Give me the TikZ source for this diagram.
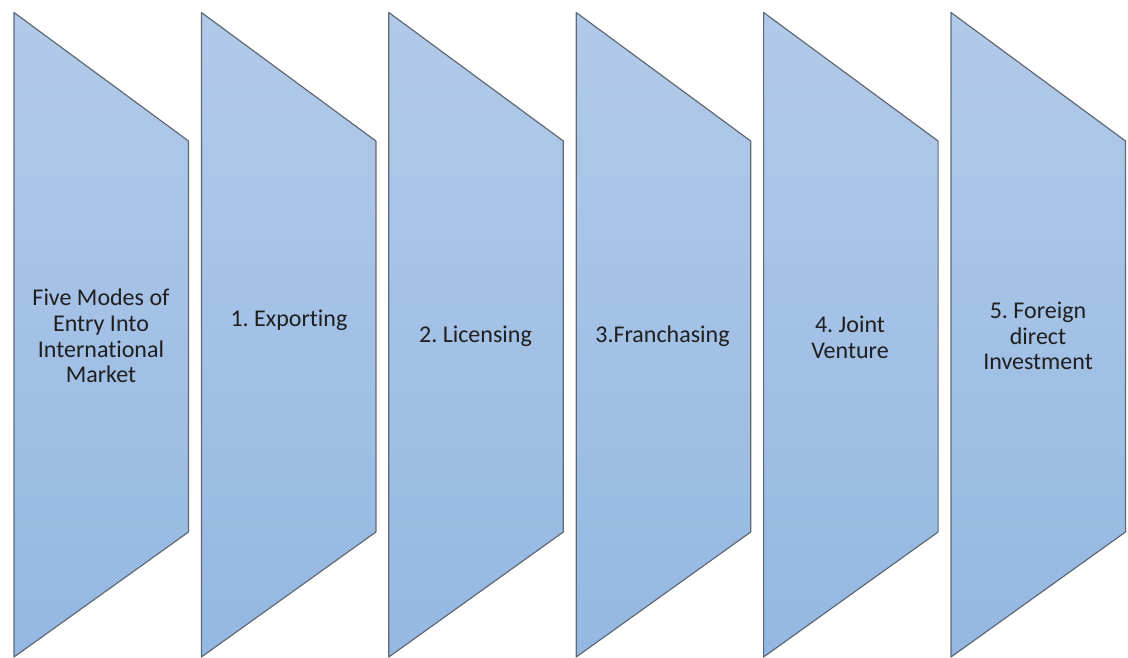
\documentclass[tikz,border=0pt]{standalone}
\usepackage{fontspec}
\setmainfont{Carlito}[Ligatures=NoCommon]
\usepackage{tikz}
\definecolor{panetop}{RGB}{178,202,233}
\definecolor{panebottom}{RGB}{148,184,226}
\definecolor{paneline}{RGB}{95,105,118}
\tikzset{
	entrybox/.style={draw=paneline, line width=1.2pt, line join=round, top color=panetop, bottom color=panebottom},
	entrytext/.style={align=center, text=black!88, font=\fontsize{24}{25.8}\selectfont, inner sep=0pt}
}
\frenchspacing

\begin{document}
\begin{tikzpicture}[x=1pt, y=-1pt]
				\useasboundingbox (0, 0) rectangle (1128, 658);
				
				\draw[entrybox] (14, 12.5) -- (188.5, 141) -- (188.5, 532) -- (14, 657) -- cycle;
				\node[entrytext] (intro) at (101, 336) {Five Modes of\\Entry Into\\International\\Market};
				
				\draw[entrybox] (201.4, 12.5) -- (375.9, 141) -- (375.9, 532) -- (201.4, 657) -- cycle;
				\node[entrytext] (export) at (289, 320) {1. Exporting};
				
				\draw[entrybox] (388.8, 12.5) -- (563.3, 141) -- (563.3, 532) -- (388.8, 657) -- cycle;
				\node[entrytext] (licence) at (475.5, 336) {2. Licensing};
				
				\draw[entrybox] (576.2, 12.5) -- (750.7, 141) -- (750.7, 532) -- (576.2, 657) -- cycle;
				\node[entrytext] (franchise) at (662.5, 336) {3.Franchasing};
				
				\draw[entrybox] (763.6, 12.5) -- (938.1, 141) -- (938.1, 532) -- (763.6, 657) -- cycle;
				\node[entrytext] (venture) at (850, 337) {4. Joint\\Venture};
				
				\draw[entrybox] (951, 12.5) -- (1125.5, 141) -- (1125.5, 532) -- (951, 657) -- cycle;
				\node[entrytext] (invest) at (1038, 336) {5. Foreign\\direct\\Investment};
			\end{tikzpicture}
\end{document}
